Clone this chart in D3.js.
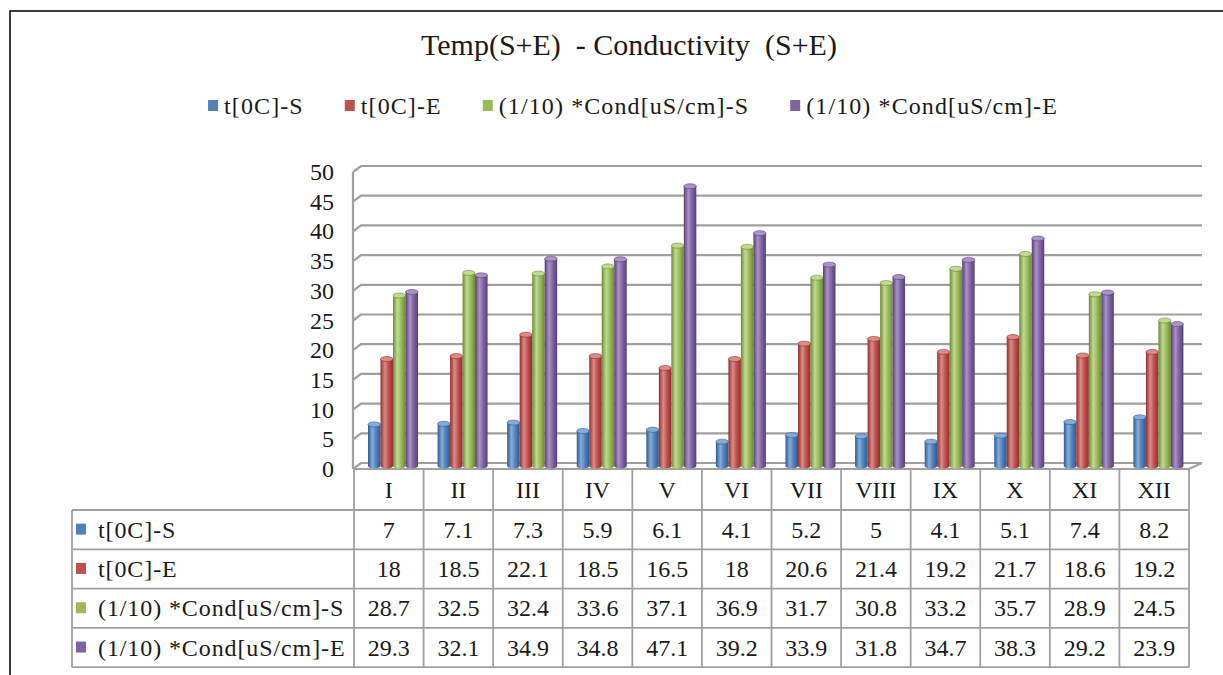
<!DOCTYPE html>
<html><head><meta charset="utf-8">
<script src="https://cdn.jsdelivr.net/npm/d3@7"></script>
<style>
html,body{margin:0;padding:0;background:#fff;}
svg text{font-family:"Liberation Serif","Times New Roman","DejaVu Serif",serif;white-space:pre;}
</style></head>
<body><svg id="c" width="1223" height="675"></svg>
<script>
const categories = ["I","II","III","IV","V","VI","VII","VIII","IX","X","XI","XII"];
const seriesNames = ["t[0C]-S","t[0C]-E","(1/10) *Cond[uS/cm]-S","(1/10) *Cond[uS/cm]-E"];
const tS    = [7,7.1,7.3,5.9,6.1,4.1,5.2,5,4.1,5.1,7.4,8.2];
const tE    = [18,18.5,22.1,18.5,16.5,18,20.6,21.4,19.2,21.7,18.6,19.2];
const condS = [28.7,32.5,32.4,33.6,37.1,36.9,31.7,30.8,33.2,35.7,28.9,24.5];
const condE = [29.3,32.1,34.9,34.8,47.1,39.2,33.9,31.8,34.7,38.3,29.2,23.9];
const yTicks = [0,5,10,15,20,25,30,35,40,45,50];
const titleText = "Temp(S+E)  - Conductivity  (S+E)";

const series = [tS,tE,condS,condE];
const colors = ["#4F81BD","#C0504D","#9BBB59","#8064A2"];
const darks  = ["#2d5b91","#8e2f2c","#6c8a36","#573f76"];
const lights = ["#86acdc","#dc8b88","#c1da90","#a992c6"];
const FONT = "'Liberation Serif','Times New Roman','DejaVu Serif',serif";

const svg = d3.select("#c");
const defs = svg.append("defs");
colors.forEach((c,i)=>{
  const g = defs.append("linearGradient").attr("id","g"+i).attr("x1","0").attr("x2","1").attr("y1","0").attr("y2","0");
  g.append("stop").attr("offset","0%").attr("stop-color",darks[i]);
  g.append("stop").attr("offset","35%").attr("stop-color",lights[i]);
  g.append("stop").attr("offset","65%").attr("stop-color",c);
  g.append("stop").attr("offset","100%").attr("stop-color",darks[i]);
});

// outer border
svg.append("rect").attr("x",10).attr("y",11).attr("width",1240).attr("height",700)
  .attr("fill","none").attr("stroke","#000").attr("stroke-width",1.5);

// title
svg.append("text").attr("x",629).attr("y",55).attr("text-anchor","middle").attr("font-family",FONT)
  .attr("font-size",30).attr("fill","#1a1a1a").text(titleText);

// legend
const leg = svg.append("g");
let lx = 0;
seriesNames.forEach((n,i)=>{
  leg.append("rect").attr("x",lx).attr("y",-6).attr("width",10).attr("height",11).attr("fill",colors[i]);
  const t = leg.append("text").attr("x",lx+16).attr("y",8).attr("font-family",FONT)
    .attr("font-size",24).attr("letter-spacing",1.1).attr("fill","#1a1a1a").text(n);
  lx += 16 + t.node().getComputedTextLength() + 41;
});
lx -= 41;
leg.attr("transform",`translate(${633-lx/2},106)`);

// scales
const x = d3.scaleBand().domain(categories).range([354,1189]).padding(0);
const y = d3.scaleLinear().domain([0,50]).range([469,172]);
const yb = d3.scaleLinear().domain([0,50]).range([466,169]);
const xs = d3.scaleBand().domain(d3.range(series.length)).range([14,64]).padding(0);
const bdx = 8, bdy = -6, backRight = 1202;

// gridlines (back wall + left wall slant)
const grid = svg.append("g").attr("fill","none").attr("stroke","#a0a0a0").attr("stroke-width",2.2);
yTicks.forEach(v=>{
  grid.append("path").attr("d",`M${x.range()[0]-1},${y(v)}L${x.range()[0]-1+bdx},${y(v)+bdy}L${backRight},${y(v)+bdy}`);
});
grid.append("line").attr("x1",x.range()[0]-1).attr("x2",x.range()[0]-1).attr("y1",y(50)).attr("y2",y(0));
grid.append("path").attr("d",`M${x.range()[0]-1},${y(0)}L${x.range()[1]},${y(0)}L${backRight},${y(0)+bdy}`);

// y tick labels
svg.append("g").selectAll("text").data(yTicks).join("text")
  .attr("x",334).attr("y",v=>y(v)+8).attr("text-anchor","end").attr("font-family",FONT)
  .attr("font-size",24).attr("fill","#1a1a1a").text(v=>v);

// bars as cylinders
const bars = svg.append("g");
series.forEach((vals,si)=>{
  vals.forEach((v,ci)=>{
    const bx = x(categories[ci]) + xs(si);
    const w = xs.bandwidth();
    const top = yb(v), base = yb(0);
    const ry = 2.5;
    bars.append("path")
      .attr("d",`M${bx},${top}L${bx},${base}A${w/2},${ry} 0 0 0 ${bx+w},${base}L${bx+w},${top}Z`)
      .attr("fill",`url(#g${si})`);
    bars.append("ellipse").attr("cx",bx+w/2).attr("cy",top).attr("rx",w/2).attr("ry",ry)
      .attr("fill",lights[si]).attr("stroke",darks[si]).attr("stroke-width",0.6);
  });
});

// data table
const tbl = svg.append("g");
const lineC = "#a0a0a0";
const rowTop = 510, rowH = 39.3, tblLeft = 72;
tbl.selectAll("text.cat").data(categories).join("text").attr("class","cat")
  .attr("x",d=>x(d)+x.bandwidth()/2).attr("y",498).attr("text-anchor","middle").attr("font-family",FONT)
  .attr("font-size",24).attr("fill","#1a1a1a").text(d=>d);
const vx = categories.map(c=>x(c)).concat([x.range()[1]]);
tbl.selectAll("line.v").data(vx).join("line").attr("class","v")
  .attr("x1",d=>d).attr("x2",d=>d).attr("y1",y(0)).attr("y2",rowTop+rowH*4)
  .attr("stroke",lineC).attr("stroke-width",1.8);
tbl.append("line").attr("x1",tblLeft).attr("x2",tblLeft).attr("y1",rowTop).attr("y2",rowTop+rowH*4)
  .attr("stroke",lineC).attr("stroke-width",1.8);
d3.range(5).forEach(r=>{
  tbl.append("line").attr("x1",tblLeft).attr("x2",x.range()[1]).attr("y1",rowTop+r*rowH).attr("y2",rowTop+r*rowH)
    .attr("stroke",lineC).attr("stroke-width",1.8);
});
series.forEach((vals,si)=>{
  const cy = rowTop + si*rowH + rowH/2;
  tbl.append("rect").attr("x",76).attr("y",cy-6).attr("width",10).attr("height",11).attr("fill",colors[si]);
  tbl.append("text").attr("x",98).attr("y",cy+8).attr("font-family",FONT).attr("font-size",24)
    .attr("letter-spacing",0.9).attr("fill","#1a1a1a").text(seriesNames[si]);
  vals.forEach((v,ci)=>{
    tbl.append("text").attr("x",x(categories[ci])+x.bandwidth()/2).attr("y",cy+8).attr("font-family",FONT)
      .attr("text-anchor","middle").attr("font-size",24).attr("fill","#1a1a1a").text(v);
  });
});
</script></body></html>
